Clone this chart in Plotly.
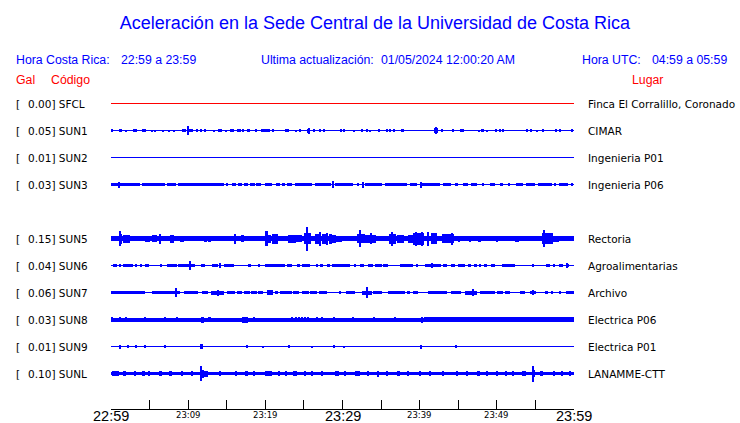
import plotly.graph_objects as go

# ---------------- data ----------------
stations = ["SFCL", "SUN1", "SUN2", "SUN3", "SUN5", "SUN6", "SUN7", "SUN8", "SUN9", "SUNL"]
slots = [0, 1, 2, 3, 5, 6, 7, 8, 9, 10]
pga_gal = [0.00, 0.05, 0.01, 0.03, 0.15, 0.04, 0.06, 0.03, 0.01, 0.10]
places = ["Finca El Corralillo, Coronado", "CIMAR", "Ingenieria P01", "Ingenieria P06",
          "Rectoria", "Agroalimentarias", "Archivo", "Electrica P06", "Electrica P01", "LANAMME-CTT"]
trace_colors = ["#ff0000"] + ["#0000ff"] * 9

# continuous background noise band (half amplitude, relative units)
noise_band = [0, 0, 0, 0, 2.3, 0, 0, 2.0, 0, 1.7]

# bursts: (start minute, end minute, half amplitude) in minutes after 22:59
bursts_SFCL = []
bursts_SUN1 = [(0.0,0.3,1.2),(1.0,1.4,1.5),(1.9,2.0,1.0),(2.9,3.4,1.5),(4.1,4.2,1.2),(4.4,4.5,1.2),
 (5.3,5.4,1.0),(5.6,5.7,1.0),(6.7,6.8,1.0),(7.5,7.6,1.0),(8.1,8.2,1.0),(9.2,9.7,1.5),(9.9,10.1,4.3),
 (10.1,10.6,1.5),(11.1,11.2,1.2),(11.6,11.7,1.2),(12.1,12.2,1.2),(13.3,13.4,1.0),(13.9,14.4,1.5),
 (14.9,15.0,1.0),(15.4,15.9,1.5),(16.4,16.5,1.2),(16.7,16.8,1.2),(17.0,17.2,1.5),(17.6,18.0,1.5),
 (18.8,18.9,1.2),(19.5,20.6,1.5),(21.0,21.1,1.2),(22.6,22.7,1.2),(22.9,23.0,1.2),(23.9,24.0,1.0),
 (24.4,24.5,1.2),(25.4,25.8,2.0),(25.55,25.65,3.0),(26.3,26.4,1.2),(27.0,27.1,1.2),(27.5,27.6,1.2),
 (29.7,29.9,1.5),(30.1,30.3,1.2),(31.4,31.5,1.0),(32.5,32.6,1.2),(33.1,33.2,1.5),(33.5,33.6,1.0),
 (34.7,34.8,1.2),(35.7,35.8,1.2),(36.1,36.2,1.2),(36.6,36.7,1.2),(37.6,38.0,1.5),(41.8,42.4,2.2),
 (42.0,42.2,3.5),(42.7,43.0,1.5),(44.2,44.4,1.8),(45.3,45.4,1.2),(45.6,45.7,1.2),(47.6,47.7,1.0),
 (48.0,48.3,1.5),(48.7,48.8,1.0),(49.9,50.0,1.2),(50.3,50.4,1.2),(50.7,50.8,1.2),(53.8,54.0,1.5),
 (54.4,54.5,1.2),(55.1,55.2,1.0),(55.8,56.1,1.5),(57.6,57.8,1.5),(58.1,58.2,1.2),(59.7,59.8,1.2)]
bursts_SUN2 = []
bursts_SUN3 = [(0.0,3.8,1.7),(0.95,1.1,3.0),(4.0,7.0,1.7),(7.2,8.4,1.7),(8.7,14.6,1.7),(15.0,15.2,1.5),
 (15.7,16.2,1.5),(16.5,17.0,1.5),(17.2,17.8,1.5),(18.0,18.6,1.5),(18.8,19.5,1.5),(19.9,20.8,1.5),
 (21.4,21.9,1.5),(22.1,22.6,1.5),(22.8,23.4,1.5),(23.9,26.1,1.7),(26.5,28.5,1.7),(28.75,28.9,3.3),
 (29.0,31.4,1.7),(31.9,32.0,1.2),(32.55,32.7,3.0),(32.9,35.1,1.7),(35.5,38.3,1.7),(38.7,39.6,1.7),
 (40.0,42.6,1.7),(40.15,40.3,3.0),(43.0,44.1,1.7),(44.6,45.0,1.5),(45.6,46.3,1.5),(46.7,47.4,1.5),
 (48.2,48.3,1.2),(49.1,49.7,1.5),(50.4,50.8,1.5),(51.5,51.6,1.2),(52.5,53.4,1.7),(53.8,54.9,1.7),
 (55.3,57.1,1.7),(57.5,57.7,1.5),(58.1,59.2,1.7),(59.7,59.8,1.2)]
bursts_SUN5 = [(1.0,1.4,5.0),(1.15,1.3,7.3),(1.6,2.4,4.0),(2.6,3.2,2.8),(4.4,5.0,3.0),(5.3,6.0,3.2),
 (6.3,6.5,5.0),(7.6,8.2,4.0),(9.0,9.5,3.0),(10.2,10.8,2.8),(12.0,12.4,3.0),(12.6,13.0,3.0),
 (16.0,16.2,5.0),(16.9,17.2,3.2),(20.0,20.3,7.5),(20.3,20.7,4.0),(20.8,21.6,5.0),(22.9,24.0,4.0),
 (24.0,24.7,3.5),(25.0,25.9,5.5),(25.3,25.5,12.0),(26.5,27.0,5.0),(27.0,27.2,7.0),(27.3,27.8,5.0),
 (27.9,28.1,6.0),(28.3,28.6,5.0),(28.6,29.1,4.0),(29.1,29.9,3.0),(31.9,32.9,4.5),(32.2,32.4,8.8),
 (32.9,34.3,4.0),(33.6,33.8,5.5),(36.0,36.9,5.0),(36.35,36.5,7.0),(37.0,38.0,4.0),(38.5,39.2,4.0),
 (39.2,40.5,6.0),(39.5,39.7,7.0),(40.2,40.4,7.0),(41.0,41.2,7.0),(41.5,42.3,5.5),(42.9,44.4,4.5),
 (44.1,44.3,6.0),(45.0,45.2,3.0),(46.5,46.7,3.0),(47.5,48.0,3.0),(50.0,50.2,3.0),(52.3,52.9,3.0),
 (55.9,57.3,5.5),(56.1,56.3,8.8),(57.3,58.0,3.0)]
bursts_SUN6 = [(0.3,0.8,1.5),(1.1,1.2,1.2),(1.6,2.9,1.5),(3.2,3.3,1.2),(3.7,4.0,1.5),(4.4,4.9,1.5),
 (6.4,6.5,1.2),(7.2,8.5,1.5),(8.7,10.9,1.8),(10.2,10.4,4.3),(11.6,12.2,1.5),(13.1,13.9,1.5),
 (14.05,14.15,2.5),(14.6,15.9,1.5),(17.8,18.2,1.5),(19.1,19.2,1.2),(20.0,22.6,1.5),(22.8,23.4,1.5),
 (24.1,24.5,1.5),(24.7,25.8,1.5),(26.7,26.8,1.2),(27.1,27.5,1.5),(28.0,28.4,1.5),(28.6,29.9,1.5),
 (29.9,31.0,1.5),(31.6,31.8,1.5),(32.3,32.8,1.5),(33.3,34.0,1.5),(34.2,35.1,1.5),(35.3,35.9,1.5),
 (37.4,39.2,1.5),(39.6,39.7,1.2),(40.7,42.8,1.5),(41.6,41.7,2.5),(43.0,43.6,1.5),(44.1,44.6,1.5),
 (45.0,45.9,1.5),(46.3,46.7,1.5),(47.1,47.4,1.5),(47.8,48.0,1.5),(48.4,48.7,1.5),(49.2,49.7,1.5),
 (50.7,52.3,1.5),(54.6,54.7,1.2),(56.4,56.9,1.5),(57.3,57.6,1.5),(58.1,58.6,1.5),(58.9,59.4,1.5),
 (59.1,59.2,2.2)]
bursts_SUN7 = [(0.0,4.4,1.7),(5.3,9.0,1.7),(8.35,8.5,4.5),(9.4,11.3,1.7),(11.8,12.6,1.7),(12.9,14.6,2.0),
 (13.85,13.95,3.0),(15.0,16.1,1.7),(16.3,17.0,1.7),(17.2,18.0,1.7),(18.2,18.9,1.7),(19.1,19.7,1.7),
 (20.2,21.0,2.3),(21.3,21.7,1.7),(21.9,23.4,1.7),(23.6,24.3,1.7),(24.7,25.6,1.7),(25.8,26.7,1.7),
 (26.9,28.0,1.7),(29.6,29.8,1.5),(30.5,31.6,1.7),(32.5,33.8,2.0),(33.1,33.3,5.5),(34.0,35.1,1.7),
 (35.9,38.1,1.7),(38.3,38.7,1.7),(39.2,39.8,1.7),(41.1,43.5,1.7),(44.1,45.4,1.7),(45.9,47.4,2.0),
 (46.9,47.0,3.7),(47.8,49.7,1.7),(50.0,50.8,1.7),(51.0,51.7,1.7),(53.0,53.6,1.7),(54.3,55.1,1.7),
 (54.6,54.7,2.8),(56.2,56.6,1.7),(57.1,57.3,1.5),(58.1,58.3,1.5),(59.0,60.0,1.7)]
bursts_SUN8 = [(0.0,0.3,2.7),(1.0,1.3,2.7),(1.9,2.0,2.5),(4.3,4.4,2.7),(7.0,7.1,2.7),(8.5,8.6,2.7),
 (11.6,12.0,3.0),(12.6,12.9,2.7),(17.0,17.8,3.0),(18.5,18.6,2.5),(23.4,23.6,2.7),(23.9,24.1,2.7),
 (24.3,24.5,2.7),(24.7,24.9,2.7),(25.1,25.3,2.7),(25.5,25.6,2.7),(26.7,26.8,2.7),(27.3,27.4,2.7),
 (28.8,28.9,2.7),(31.3,31.4,2.8),(34.0,34.1,2.8),(36.8,36.9,2.8),(40.2,40.3,3.0),(40.5,60.0,2.3)]
bursts_SUN9 = [(1.1,1.3,2.0),(2.1,2.2,1.2),(3.2,3.3,1.2),(4.4,4.5,1.2),(7.0,7.1,1.2),(11.5,11.9,2.3),
 (17.6,17.7,1.2),(19.6,19.7,1.0),(23.0,23.1,1.2),(26.0,26.1,1.0),(28.8,28.9,1.2),(30.2,30.3,1.0),
 (40.15,40.3,2.0),(44.6,44.7,1.5)]
bursts_SUNL = [(0.1,1.0,2.5),(1.6,1.9,2.5),(3.1,3.2,2.5),(4.0,4.4,2.5),(4.9,5.0,2.5),(6.2,6.6,2.5),
 (7.5,7.9,2.5),(9.2,9.3,2.5),(10.5,10.6,2.5),(11.55,11.7,7.7),(11.7,12.0,4.0),(12.0,12.6,3.0),
 (14.1,14.2,2.5),(16.1,16.2,2.5),(17.4,17.8,2.5),(18.5,18.6,2.5),(20.0,20.8,2.5),(21.7,21.8,2.5),
 (22.6,22.7,2.5),(23.6,24.1,2.5),(25.1,25.2,2.5),(26.0,26.1,2.5),(27.3,27.4,2.5),(29.0,29.5,2.5),
 (30.3,30.4,2.5),(31.6,32.3,2.5),(33.3,33.4,2.5),(34.6,34.7,3.0),(35.7,35.8,2.5),(37.0,37.4,2.5),
 (38.5,38.6,2.5),(40.0,40.1,2.5),(41.3,41.4,2.5),(43.0,43.1,2.5),(44.8,44.9,2.5),(46.1,46.2,2.5),
 (47.4,47.8,2.5),(48.7,48.8,2.5),(50.0,50.1,2.5),(51.2,51.3,2.5),(52.1,52.2,2.5),(53.2,53.8,2.5),
 (54.6,54.75,8.0),(54.75,55.0,3.5),(55.6,56.0,2.5),(57.3,57.4,2.5),(58.4,58.5,2.5),(59.4,59.5,2.5)]
bursts = [bursts_SFCL, bursts_SUN1, bursts_SUN2, bursts_SUN3, bursts_SUN5,
          bursts_SUN6, bursts_SUN7, bursts_SUN8, bursts_SUN9, bursts_SUNL]

tick_minutes = list(range(0, 61, 5))
label_minutes = [0, 10, 20, 30, 40, 50, 60]
label_texts = ["22:59", "23:09", "23:19", "23:29", "23:39", "23:49", "23:59"]
label_major = [True, False, False, True, False, False, True]

title_text = "Aceleración en la Sede Central de la Universidad de Costa Rica"

# ---------------- layout geometry ----------------
W_FIG, H_FIG = 740, 423
L, R = 111, 166
T, B = 90, 14
PW = W_FIG - L - R
PH = H_FIG - T - B
ROW_PX = 27.0
ROW0_PX = 103.5
y_top = (T - ROW0_PX) / ROW_PX
y_bot = (H_FIG - B - ROW0_PX) / ROW_PX
AMP = 1.0 / ROW_PX  # relative amplitude unit -> row units


def px_x(px):
    return (px - L) / PW


def px_y(py):
    return (H_FIG - B - py) / PH


fig = go.Figure()

for i, st in enumerate(stations):
    s = slots[i]
    col = trace_colors[i]
    fig.add_trace(go.Scatter(x=[0, 60], y=[s, s], mode="lines",
                             line=dict(color=col, width=1), hoverinfo="skip", showlegend=False))
    segs = list(bursts[i])
    if noise_band[i] > 0:
        segs = [(0.0, 60.0, noise_band[i])] + segs
    if segs:
        xs = [(a + b) / 2 for a, b, _ in segs]
        ws = [max(b - a, 0.13) for a, b, _ in segs]
        bases = [s - h * AMP for _, _, h in segs]
        hs = [2 * h * AMP for _, _, h in segs]
        fig.add_trace(go.Bar(x=xs, y=hs, base=bases, width=ws,
                             marker=dict(color=col, line=dict(width=0)),
                             hoverinfo="skip", showlegend=False))

ann = []
BLUE = "#0000ff"
RED = "#ff0000"
HDR_FONT = "Liberation Sans, Arial, sans-serif"
LBL_FONT = "DejaVu Sans, sans-serif"
HDR_SIZE = 12.3


def text(t, xp, yp, color, size, family, anchor="left"):
    ann.append(dict(text=t, x=px_x(xp), y=px_y(yp), xref="paper", yref="paper",
                    xanchor=anchor, yanchor="middle", showarrow=False, borderpad=0,
                    font=dict(color=color, size=size, family=family)))


# header
text("Hora Costa Rica:", 15, 60, BLUE, HDR_SIZE, HDR_FONT)
text("22:59 a 23:59", 120, 60, BLUE, HDR_SIZE, HDR_FONT)
text("Ultima actualización:", 260, 60, BLUE, HDR_SIZE, HDR_FONT)
text("01/05/2024 12:00:20 AM", 380, 60, BLUE, HDR_SIZE, HDR_FONT)
text("Hora UTC:", 580.5, 60, BLUE, HDR_SIZE, HDR_FONT)
text("04:59 a 05:59", 650.5, 60, BLUE, HDR_SIZE, HDR_FONT)
text("Gal", 15, 80, RED, HDR_SIZE, HDR_FONT)
text("Código", 50, 80, RED, HDR_SIZE, HDR_FONT)
text("Lugar", 630.5, 80, RED, HDR_SIZE, HDR_FONT)

# station labels
for i, st in enumerate(stations):
    s = slots[i]
    for t, xp in (("[", 15), ("%.2f] %s" % (pga_gal[i], st), 27)):
        ann.append(dict(text=t, x=px_x(xp), y=s, xref="paper", yref="y",
                        xanchor="left", yanchor="middle", showarrow=False, borderpad=0,
                        font=dict(color="black", size=10.5, family=LBL_FONT)))
    ann.append(dict(text=places[i], x=px_x(587), y=s, xref="paper", yref="y",
                    xanchor="left", yanchor="middle", showarrow=False, borderpad=0,
                    font=dict(color="black", size=10.5, family=LBL_FONT)))

# time labels
for m, lab, major in zip(label_minutes, label_texts, label_major):
    ann.append(dict(text=lab, x=m, y=0, xref="x", yref="paper",
                    xanchor="center", yanchor="middle", showarrow=False, borderpad=0,
                    yshift=-7.0 if major else -6.3,
                    font=dict(color="black", size=14.5 if major else 8.5,
                              family=HDR_FONT if major else LBL_FONT)))

fig.update_layout(
    width=W_FIG, height=H_FIG,
    margin=dict(l=L, r=R, t=T, b=B, pad=0),
    paper_bgcolor="white", plot_bgcolor="white",
    barmode="overlay", bargap=0,
    showlegend=False,
    title=dict(text=title_text, x=375 / W_FIG, xanchor="center", xref="container",
               y=1 - 23 / H_FIG, yanchor="middle", yref="container",
               font=dict(color=BLUE, size=18, family=HDR_FONT)),
    annotations=ann,
)
fig.update_xaxes(range=[0, 60], showline=True, linecolor="black", linewidth=1,
                 ticks="inside", ticklen=9, tickwidth=1, tickcolor="black",
                 tickvals=tick_minutes, showticklabels=False, showgrid=False, zeroline=False)
fig.update_yaxes(range=[y_bot, y_top], visible=False, showgrid=False, zeroline=False)

fig.write_html("out.html", config={"displayModeBar": False},
               post_script="document.body.style.margin='0';document.body.style.padding='0';")
